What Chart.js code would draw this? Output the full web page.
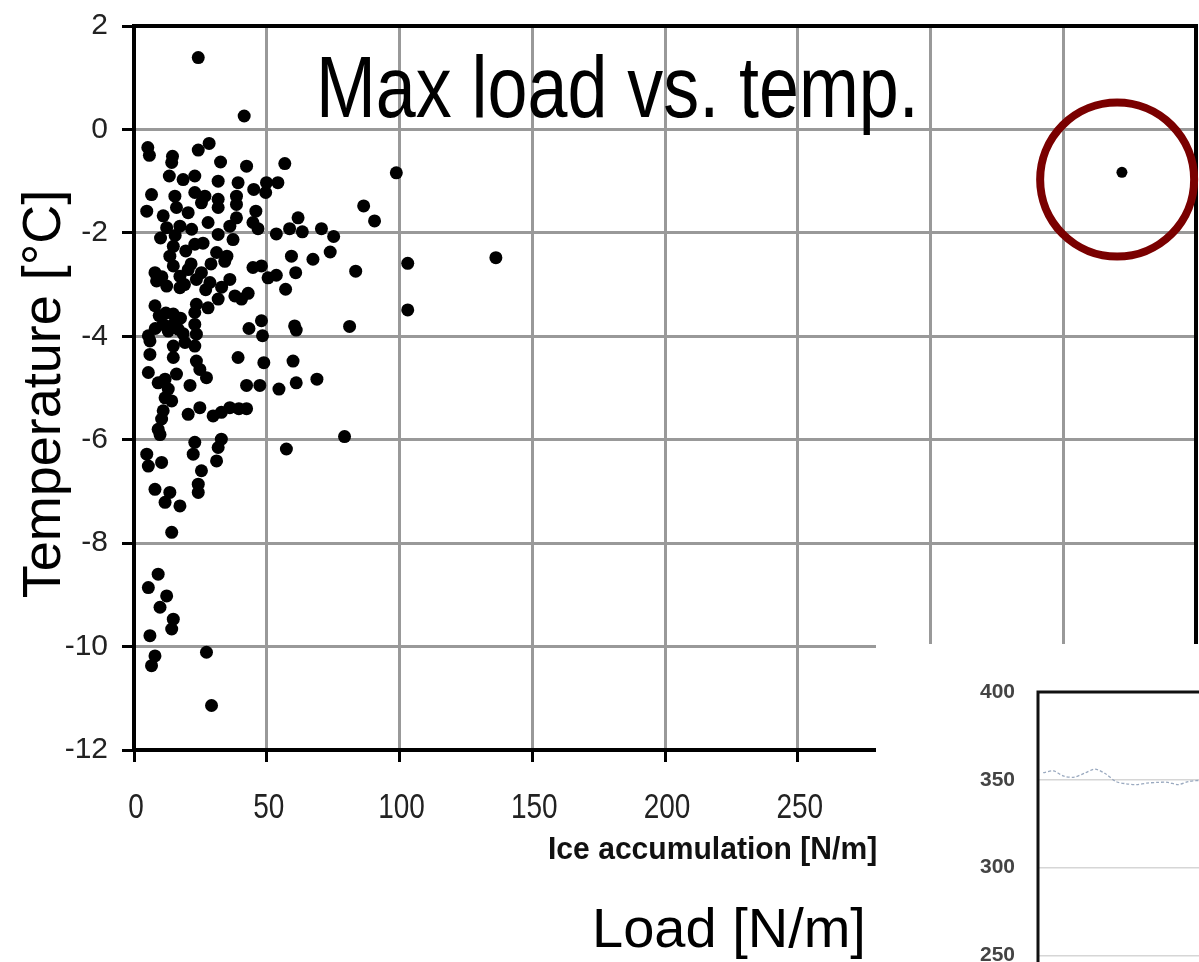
<!DOCTYPE html>
<html>
<head>
<meta charset="utf-8">
<script src="https://cdn.jsdelivr.net/npm/chart.js@4.4.1/dist/chart.umd.min.js"></script>
<style>
  html, body { margin: 0; padding: 0; background: #fff; overflow: hidden; }
  #wrap { position: relative; width: 1199px; height: 962px; overflow: hidden; }
  #mainChart { position: absolute; left: 0; top: 0; }
  #inset { position: absolute; left: 876px; top: 644px; width: 323px; height: 318px; background: #fff; overflow: hidden; }
  #insetChart { position: absolute; left: 0; top: 0; }
</style>
</head>
<body>
<div id="wrap">
  <canvas id="mainChart" width="1199" height="962"></canvas>
  <div id="inset"><canvas id="insetChart" width="323" height="400"></canvas></div>
</div>
<script>
// Max load vs. temperature
const loadValues = [
  24.2, 41.5,
  5.2, 5.8, 14.5, 14.2, 24.2, 28.3, 32.6, 13.3, 18.5, 22.9,
  31.7, 39.2, 6.6, 15.4, 22.9, 26.7, 31.7, 38.6, 4.8, 11.0,
  16.0, 20.4, 25.4, 31.7, 38.6, 27.9, 12.3, 17.3, 21.7, 36.1,
  38.6, 31.7, 37.3, 14.8, 22.9, 13.5, 31.1, 34.2, 7.9, 8.5,
  14.8, 17.3, 20.4, 23.5, 25.4, 12.3, 17.3, 28.6, 36.1, 7.9,
  23.5, 31.7, 38.0, 10.5, 19.0, 21.5, 27.0, 33.0, 15.5, 19.5,
  26.0, 29.0, 10.0, 35.0,
  42.4, 56.8, 54.2, 49.9, 49.6, 45.1, 45.9, 44.8, 46.7, 53.6,
  58.6, 61.8, 63.4, 70.6, 75.2, 73.9, 67.4, 59.3, 60.9, 57.1,
  83.5, 86.5, 90.6, 98.8, 103.1, 103.1, 136.3, 44.8, 48.0, 50.5,
  53.6, 43.0, 40.5, 48.0, 48.4, 43.3, 60.5, 61.1, 81.2, 59.9,
  48.9, 68.9, 61.1, 54.6, 47.4, 42.4, 42.4, 79.3, 57.4, 39.5,
  14.8, 11.0, 14.8, 16.6, 12.9, 22.9, 22.9, 27.9, 5.4, 6.0,
  23.5, 19.2, 22.9, 14.8, 6.0, 14.8, 23.5, 5.4, 16.0, 24.8,
  27.3, 9.1, 11.7, 21.1, 11.7, 14.2, 11.0, 10.4, 9.1, 20.4,
  24.8, 29.8, 32.9, 36.1, 39.2, 4.8, 5.4, 10.4, 22.9, 22.3,
  32.9, 31.7, 31.1, 25.4, 9.5, 12.0, 17.5, 18.5, 8.0, 9.8,
  12.9,
  24.2, 24.2, 7.9, 13.5, 11.7, 17.3, 14.2, 9.1, 5.4, 12.3,
  9.8, 14.8, 14.2, 6.0, 7.9, 6.6, 27.3, 29.2
];
const tempValues = [
  1.39, 0.26,
  -0.35, -0.50, -0.52, -0.64, -0.40, -0.27, -0.63, -0.90, -0.97, -0.90,
  -1.00, -1.03, -1.26, -1.29, -1.22, -1.29, -1.35, -1.29, -1.58, -1.67,
  -1.51, -1.61, -1.42, -1.51, -1.45, -1.80, -1.90, -1.87, -1.93, -1.87,
  -1.71, -2.03, -2.13, -2.26, -2.22, -2.45, -2.38, -2.55, -2.77, -2.93,
  -2.64, -2.84, -2.71, -2.90, -2.77, -3.03, -3.06, -2.96, -2.90, -3.41,
  -3.38, -3.28, -3.22, -2.85, -3.00, -2.60, -3.10, -3.05, -2.05, -2.35,
  -2.20, -2.60, -2.10, -2.45,
  -0.71, -0.66, -1.03, -1.03, -1.22, -1.16, -1.58, -1.80, -1.92, -2.02,
  -1.92, -1.71, -1.98, -1.92, -2.07, -2.37, -2.51, -2.45, -2.77, -3.09,
  -2.74, -1.48, -1.77, -0.84, -2.59, -3.49, -2.48, -2.67, -2.64, -2.87,
  -2.82, -3.17, -3.28, -3.70, -3.99, -3.85, -3.80, -3.88, -3.81, -4.48,
  -4.51, -4.83, -4.90, -5.02, -4.95, -4.95, -5.40, -5.94, -6.18, -5.40,
  -3.57, -3.77, -3.77, -3.86, -3.90, -3.54, -3.77, -3.45, -3.99, -4.09,
  -3.96, -4.12, -4.19, -4.19, -4.35, -4.41, -4.48, -4.70, -4.73, -4.64,
  -4.80, -4.90, -4.83, -4.95, -5.19, -5.25, -5.44, -5.60, -5.80, -5.51,
  -5.38, -5.54, -5.47, -5.38, -4.41, -6.28, -6.51, -6.44, -6.05, -6.28,
  -5.99, -6.15, -6.41, -6.60, -3.60, -3.55, -3.65, -3.95, -3.85, -5.90,
  -5.02,
  -6.86, -7.02, -6.96, -7.02, -7.21, -7.28, -7.79, -8.60, -8.86, -9.02,
  -9.24, -9.47, -9.66, -9.79, -10.18, -10.37, -10.11, -11.14
];

// the circled outlier and its highlight ring
const outlierLoad = [372.1];
const outlierTemp = [-0.83];
const circleLoad = [370.3];
const circleTemp = [-0.97];

// axis ticks
const loadTicks = [0, 50, 100, 150, 200, 250, 300, 350, 400];
const tempTicks = [2, 0, -2, -4, -6, -8, -10, -12];

// inset: the partial line chart in the lower right
const insetSample = [0, 1, 2, 3, 4, 5, 6, 7, 8, 9, 10, 11, 12, 13, 14, 15];
const insetValues = [354, 355, 352, 351.5, 353.8, 356, 353.4, 349, 347.7, 347.2, 348.1, 348.5, 348.5, 347.2, 349, 349.6];
const insetTicks = [400, 350, 300, 250, 200];

const points = loadValues.map((x, i) => ({ x: x, y: tempValues[i] }));

// squeezed text, there is no narrow font installed
function narrowText(ctx, text, x, y, squeeze, align) {
  ctx.save();
  ctx.translate(x, y);
  ctx.scale(squeeze, 1);
  ctx.textAlign = align || 'left';
  ctx.fillText(text, 0, 0);
  ctx.restore();
}

const decorPlugin = {
  id: 'decor',
  beforeDatasetsDraw(chart) {
    const { ctx, chartArea: a } = chart;
    ctx.save();
    ctx.strokeStyle = '#000';
    ctx.lineWidth = 4;
    ctx.beginPath();
    ctx.moveTo(a.left - 2, a.top);
    ctx.lineTo(a.right, a.top);
    ctx.lineTo(a.right, a.bottom);
    ctx.stroke();
    ctx.restore();
  },
  afterDraw(chart) {
    const ctx = chart.ctx;
    const xs = chart.scales.x;
    ctx.save();
    ctx.textBaseline = 'alphabetic';

    // x tick labels, tall and narrow like the original
    ctx.fillStyle = '#222';
    ctx.font = "35px 'Liberation Sans', sans-serif";
    xs.ticks.forEach(t => {
      narrowText(ctx, String(t.value), xs.getPixelForValue(t.value) + 2, 818, 0.8, 'center');
    });

    ctx.fillStyle = '#000';
    ctx.font = "88px 'Liberation Sans', sans-serif";
    narrowText(ctx, 'Max load vs. temp.', 316, 117, 0.816);

    ctx.font = "bold 31px 'Liberation Sans', sans-serif";
    ctx.fillStyle = '#111';
    narrowText(ctx, 'Ice accumulation [N/m]', 548, 859, 0.97);

    ctx.fillStyle = '#000';
    ctx.font = "56px 'Liberation Sans', sans-serif";
    ctx.fillText('Load [N/m]', 592, 947);

    ctx.translate(60, 394);
    ctx.rotate(-Math.PI / 2);
    ctx.textAlign = 'center';
    ctx.font = "54px 'Liberation Sans', sans-serif";
    ctx.fillText('Temperature [\u00b0C]', 0, 0);
    ctx.restore();
  }
};

new Chart(document.getElementById('mainChart').getContext('2d'), {
  type: 'scatter',
  data: {
    datasets: [
      {
        label: 'Max load',
        data: points,
        pointRadius: 6.5,
        pointBackgroundColor: '#000',
        pointBorderWidth: 0,
        showLine: false
      },
      {
        label: 'Outlier',
        data: outlierLoad.map((x, i) => ({ x: x, y: outlierTemp[i] })),
        pointRadius: 5.5,
        pointBackgroundColor: '#000',
        pointBorderWidth: 0,
        showLine: false
      },
      {
        label: 'Highlight',
        data: circleLoad.map((x, i) => ({ x: x, y: circleTemp[i] })),
        pointRadius: 77,
        pointBackgroundColor: 'rgba(0,0,0,0)',
        pointBorderColor: '#7a0000',
        pointBorderWidth: 8,
        showLine: false,
        clip: false
      }
    ]
  },
  options: {
    responsive: false,
    animation: false,
    layout: { autoPadding: false, padding: { top: 26, right: 3, left: 0, bottom: 0 } },
    plugins: { legend: { display: false }, tooltip: { enabled: false } },
    scales: {
      x: {
        type: 'linear',
        min: 0,
        max: 400,
        afterBuildTicks: (scale) => { scale.ticks = loadTicks.map(v => ({ value: v })); },
        ticks: { display: false },
        grid: { color: '#999', lineWidth: 3, tickColor: '#000', tickWidth: 3, tickLength: 12 },
        border: { color: '#000', width: 4 },
        afterFit: (scale) => { scale.height = 212; scale.paddingLeft = 0; scale.paddingRight = 0; }
      },
      y: {
        type: 'linear',
        min: -12,
        max: 2,
        afterBuildTicks: (scale) => { scale.ticks = tempTicks.map(v => ({ value: v })); },
        ticks: {
          color: '#222',
          padding: 14,
          autoSkip: false,
          font: { family: "'Liberation Sans', sans-serif", size: 30 }
        },
        grid: { color: '#999', lineWidth: 3, tickColor: '#000', tickWidth: 3, tickLength: 12 },
        border: { color: '#000', width: 4 },
        afterFit: (scale) => { scale.width = 134; scale.paddingTop = 0; scale.paddingBottom = 0; }
      }
    }
  },
  plugins: [decorPlugin]
});

const insetFrame = {
  id: 'insetFrame',
  afterDatasetsDraw(chart) {
    const { ctx, chartArea: a } = chart;
    ctx.save();
    ctx.strokeStyle = '#111';
    ctx.lineWidth = 3;
    ctx.beginPath();
    ctx.moveTo(a.left, a.bottom);
    ctx.lineTo(a.left, a.top);
    ctx.lineTo(a.right, a.top);
    ctx.stroke();
    ctx.restore();
  }
};

new Chart(document.getElementById('insetChart').getContext('2d'), {
  type: 'line',
  data: {
    datasets: [{
      label: 'inset',
      data: insetSample.map((x, i) => ({ x: x, y: insetValues[i] })),
      borderColor: '#9aa9bf',
      borderWidth: 1.3,
      borderDash: [3, 2],
      pointRadius: 0,
      tension: 0.3
    }]
  },
  options: {
    responsive: false,
    animation: false,
    layout: { autoPadding: false, padding: { top: 48, right: 0, left: 0, bottom: 1 } },
    plugins: { legend: { display: false }, tooltip: { enabled: false } },
    scales: {
      x: { type: 'linear', min: -0.5, max: 15, display: false },
      y: {
        min: 200,
        max: 400,
        afterBuildTicks: (scale) => { scale.ticks = insetTicks.map(v => ({ value: v })); },
        ticks: {
          color: '#444',
          padding: 23,
          font: { family: "'Liberation Sans', sans-serif", size: 21, weight: 'bold' }
        },
        grid: { color: '#d6d6d6', lineWidth: 1.5, drawTicks: false },
        border: { display: false },
        afterFit: (scale) => { scale.width = 162; scale.paddingTop = 0; scale.paddingBottom = 0; }
      }
    }
  },
  plugins: [insetFrame]
});
</script>
</body>
</html>
